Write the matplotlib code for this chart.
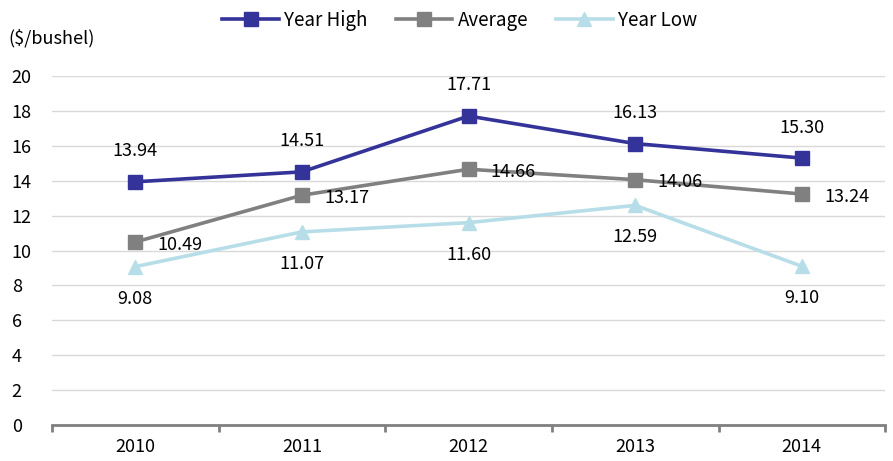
import matplotlib.pyplot as plt
import numpy as np

plt.rcParams['font.family'] = ['Noto Sans CJK JP', 'DejaVu Sans']

years = ['2010', '2011', '2012', '2013', '2014']
year_high = [13.94, 14.51, 17.71, 16.13, 15.30]
average = [10.49, 13.17, 14.66, 14.06, 13.24]
year_low = [9.08, 11.07, 11.60, 12.59, 9.10]

c_high = '#333399'
c_avg = '#808080'
c_low = '#b7dee8'

fig = plt.figure(figsize=(8.93, 4.61), dpi=100)
ax = fig.add_axes([0.0582, 0.078, 0.933, 0.757])
x = np.arange(len(years))

ax.plot(x, year_high, color=c_high, lw=2.6, marker='s', ms=9.5, label='Year High', zorder=3)
ax.plot(x, average, color=c_avg, lw=2.6, marker='s', ms=9.5, label='Average', zorder=3)
ax.plot(x, year_low, color=c_low, lw=2.6, marker='^', ms=10.5, label='Year Low', zorder=3)

fs = 13
for i in x:
    ax.annotate(f'{year_high[i]:.2f}', (i, year_high[i]), xytext=(0, 22), textcoords='offset points',
                ha='center', va='center', fontsize=fs)
    ax.annotate(f'{average[i]:.2f}', (i, average[i]), xytext=(16, -2), textcoords='offset points',
                ha='left', va='center', fontsize=fs)
    ax.annotate(f'{year_low[i]:.2f}', (i, year_low[i]), xytext=(0, -23), textcoords='offset points',
                ha='center', va='center', fontsize=fs)

ax.set_xlim(-0.5, 4.5)
ax.set_ylim(0, 20)
ax.set_yticks(range(0, 21, 2))
ax.set_xticks(x)
ax.set_xticklabels(years)
ax.set_xticks(np.arange(-0.5, 5, 1), minor=True)
ax.tick_params(axis='x', which='major', length=0, pad=9, labelsize=fs)
ax.tick_params(axis='x', which='minor', length=5, width=2, color='#808080', direction='out')
ax.tick_params(axis='y', length=0, pad=29, labelsize=fs)
for lab in ax.get_yticklabels():
    lab.set_horizontalalignment('left')
ax.grid(axis='y', color='#d9d9d9', lw=1)
ax.set_axisbelow(True)
for s in ['top', 'right', 'left']:
    ax.spines[s].set_visible(False)
ax.spines['bottom'].set_color('#808080')
ax.spines['bottom'].set_linewidth(2)

fig.text(0.009, 0.918, '($/bushel)', fontsize=fs, ha='left', va='center')
fig.legend(loc='upper center', bbox_to_anchor=(0.515, 1.015), ncol=3, frameon=False,
           fontsize=13.5, handlelength=3.0, columnspacing=1.5, handletextpad=0.3)

fig.savefig('out.png', dpi=100)
